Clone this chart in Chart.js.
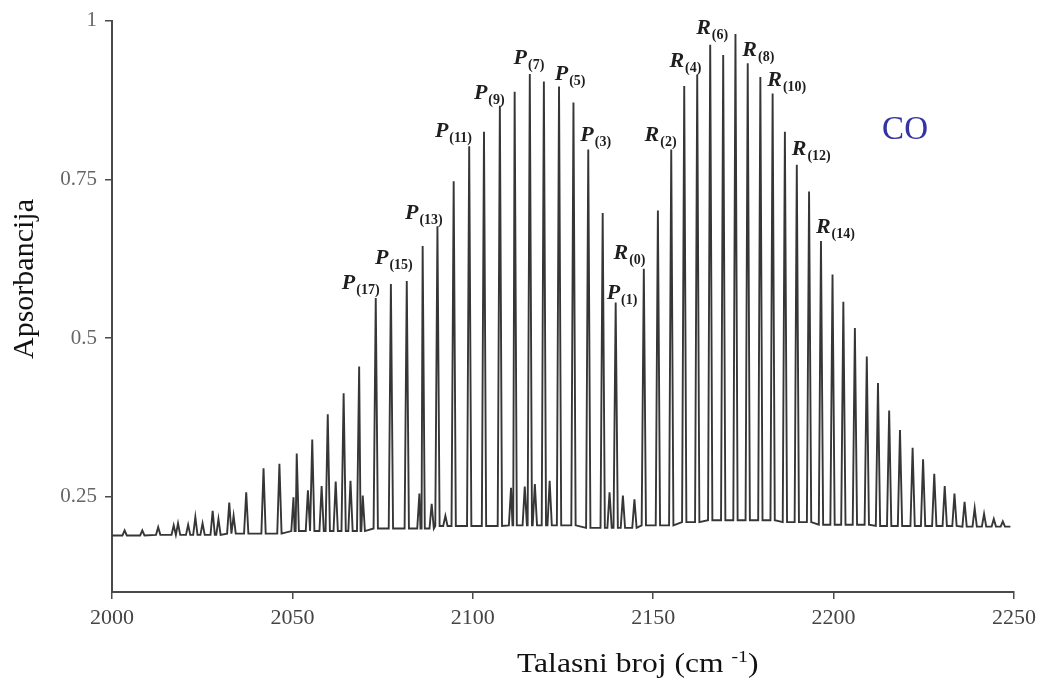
<!DOCTYPE html>
<html>
<head>
<meta charset="utf-8">
<script src="https://cdn.jsdelivr.net/npm/chart.js@4.4.1/dist/chart.umd.min.js"></script>
<style>
  html, body { margin: 0; padding: 0; background: #fff; }
  #wrap { width: 1044px; height: 684px; position: relative; }
</style>
</head>
<body>
<div id="wrap"><canvas id="spectrum" width="1044" height="684"></canvas></div>
<script>
// Linije P i R grane (talasni broj, apsorbancija) ocitane sa slike
const mainPeakX = [
  2003.5, 2008.4, 2012.8, 2018.3, 2023.1, 2027.9, 2032.5, 2037.2, 2042.0, 2046.4,
  2051.2, 2055.5, 2059.8, 2064.2, 2068.5, 2073.1, 2077.3, 2081.7, 2086.1, 2090.2,
  2094.7, 2099.0, 2103.1, 2107.5, 2111.6, 2115.8, 2119.7, 2123.9, 2127.9, 2132.0,
  2136.0, 2139.6,
  2147.4, 2151.3, 2155.0, 2158.6, 2162.2, 2165.8, 2169.4, 2172.8, 2176.2, 2179.7,
  2183.1, 2186.5, 2189.8, 2193.2, 2196.5, 2199.7, 2202.7, 2205.9, 2209.2, 2212.3,
  2215.4, 2218.4, 2221.9, 2224.8, 2227.9, 2230.8, 2233.5, 2236.3, 2239.1, 2241.7,
  2244.4, 2246.9
];
const mainPeakY = [
  0.197, 0.197, 0.202, 0.208, 0.218, 0.228, 0.241, 0.257, 0.295, 0.302,
  0.318, 0.340, 0.380, 0.413, 0.455, 0.563, 0.585, 0.590, 0.645, 0.676,
  0.747, 0.802, 0.825, 0.866, 0.888, 0.916, 0.904, 0.896, 0.871, 0.797,
  0.697, 0.556,
  0.609, 0.701, 0.797, 0.897, 0.915, 0.962, 0.946, 0.979, 0.933, 0.911,
  0.885, 0.825, 0.773, 0.731, 0.653, 0.600, 0.557, 0.516, 0.471, 0.429,
  0.386, 0.355, 0.327, 0.309, 0.286, 0.267, 0.255, 0.242, 0.232, 0.223,
  0.215, 0.211
];

// Slabije linije izmedju glavnih (izotopi / vruce trake)
const weakPeakX = [
  2017.1, 2021.1, 2025.1, 2029.5, 2033.7, 2050.3, 2054.3, 2058.1, 2062.0, 2066.1,
  2069.5, 2085.2, 2088.6, 2092.4, 2110.6, 2114.4, 2117.2, 2121.3, 2137.9, 2141.6,
  2144.8
];
const weakPeakY = [
  0.205, 0.206, 0.208, 0.215, 0.220, 0.249, 0.260, 0.267, 0.274, 0.275,
  0.252, 0.255, 0.239, 0.220, 0.264, 0.266, 0.270, 0.275, 0.257, 0.252,
  0.246
];

// Osnovna linija (ocitano na nekoliko mesta)
const baseX = [2000, 2020, 2040, 2060, 2080, 2100, 2120, 2140, 2150, 2160, 2170, 2180, 2190, 2200, 2220, 2249];
const baseY = [0.189, 0.190, 0.192, 0.196, 0.200, 0.204, 0.205, 0.201, 0.205, 0.210, 0.213, 0.213, 0.210, 0.206, 0.204, 0.203];

const xTickValues = [2000, 2050, 2100, 2150, 2200, 2250];
const yTickValues = [0.25, 0.5, 0.75, 1];
const yTickLabels = ["0.25", "0.5", "0.75", "1"];

// Oznake linija: grana, J, i polozaj oznake (talasni broj, apsorbancija)
const labelBranch = ["P", "P", "P", "P", "P", "P", "P", "P", "P", "R", "R", "R", "R", "R", "R", "R", "R"];
const labelJ = [17, 15, 13, 11, 9, 7, 5, 3, 1, 0, 2, 4, 6, 8, 10, 12, 14];
const labelX = [2063.7, 2072.9, 2081.2, 2089.5, 2100.3, 2111.3, 2122.7, 2129.8, 2137.1,
                2139.0, 2147.6, 2154.5, 2161.9, 2174.7, 2181.6, 2188.4, 2195.1];
const labelY = [0.578, 0.617, 0.688, 0.816, 0.877, 0.932, 0.907, 0.811, 0.562,
                0.625, 0.811, 0.927, 0.979, 0.944, 0.897, 0.788, 0.665];

const moleculeName = "CO";
const moleculeX = 2219.8;
const moleculeY = 0.813;

const SERIF = '"Liberation Serif", "Times New Roman", serif';

// najbliza ocitana vrednost osnovne linije
function footAt(x) {
  let best = 0;
  for (let i = 1; i < baseX.length; i++) {
    if (Math.abs(baseX[i] - x) < Math.abs(baseX[best] - x)) best = i;
  }
  return baseY[best];
}

function buildSpectrum() {
  const pts = [];
  const half = 0.6;
  pts.push({ x: baseX[0], y: baseY[0] });
  pts.push({ x: baseX[baseX.length - 1], y: baseY[baseY.length - 1] });
  const addPeaks = (xs, ys) => {
    xs.forEach((x, i) => {
      const f = footAt(x);
      pts.push({ x: x - half, y: f }, { x: x, y: ys[i] }, { x: x + half, y: f });
    });
  };
  addPeaks(mainPeakX, mainPeakY);
  addPeaks(weakPeakX, weakPeakY);
  pts.sort((a, b) => a.x - b.x);
  return pts;
}

const annotations = {
  id: "coAnnotations",
  afterDatasetsDraw(chart) {
    const { ctx, chartArea } = chart;
    const xs = chart.scales.x;
    const ys = chart.scales.y;
    ctx.save();
    ctx.textAlign = "left";
    ctx.textBaseline = "alphabetic";
    ctx.fillStyle = "#1e1e1e";

    labelBranch.forEach((b, i) => {
      const px = xs.getPixelForValue(labelX[i]);
      const py = ys.getPixelForValue(labelY[i]);
      ctx.font = "italic bold 22px " + SERIF;
      ctx.fillText(b, px, py);
      const w = ctx.measureText(b).width;
      ctx.font = "bold 14px " + SERIF;
      ctx.fillText("(" + labelJ[i] + ")", px + w + 1, py + 5);
    });

    // naziv molekula
    ctx.fillStyle = "#3434a2";
    ctx.font = "33px " + SERIF;
    ctx.textAlign = "center";
    ctx.fillText(moleculeName, xs.getPixelForValue(moleculeX), ys.getPixelForValue(moleculeY));

    // naslov y ose
    ctx.fillStyle = "#111";
    ctx.font = "30px " + SERIF;
    ctx.save();
    ctx.translate(chartArea.left - 87, 279);
    ctx.rotate(-Math.PI / 2);
    ctx.textBaseline = "middle";
    ctx.fillText("Apsorbancija", 0, 0);
    ctx.restore();

    // naslov x ose sa eksponentom (slika je malo razvucena po sirini)
    ctx.save();
    ctx.translate(517, 672);
    ctx.scale(1.17, 1);
    let tx = 0;
    ctx.textAlign = "left";
    ctx.font = "27px " + SERIF;
    const part1 = "Talasni broj (cm ";
    ctx.fillText(part1, tx, 0);
    tx += ctx.measureText(part1).width;
    ctx.font = "17px " + SERIF;
    ctx.fillText("-1", tx, -10);
    tx += ctx.measureText("-1").width;
    ctx.font = "27px " + SERIF;
    ctx.fillText(")", tx, 0);
    ctx.restore();
    ctx.restore();
  },
};

const ctx = document.getElementById("spectrum").getContext("2d");
new Chart(ctx, {
  type: "line",
  data: {
    datasets: [
      {
        label: "CO",
        data: buildSpectrum(),
        borderColor: "#363636",
        borderWidth: 1.9,
        pointRadius: 0,
        tension: 0,
        fill: false,
      },
    ],
  },
  options: {
    responsive: false,
    animation: false,
    layout: { padding: { left: 0, right: 30, top: 12, bottom: 0 } },
    plugins: {
      legend: { display: false },
      tooltip: { enabled: false },
    },
    scales: {
      x: {
        type: "linear",
        min: 2000,
        max: 2250,
        afterBuildTicks: (scale) => {
          scale.ticks = xTickValues.map((v) => ({ value: v }));
        },
        afterFit: (scale) => {
          scale.height = 92;
        },
        ticks: {
          color: "#444",
          font: { family: SERIF, size: 22 },
          padding: 6,
          maxRotation: 0,
          callback: (value) => String(value),
        },
        grid: { display: true, drawOnChartArea: false, drawTicks: true, tickLength: 7, color: "#4a4a4a", lineWidth: 1.5 },
        border: { display: true, color: "#4a4a4a", width: 2 },
      },
      y: {
        type: "linear",
        min: 0.1,
        max: 1,
        afterBuildTicks: (scale) => {
          scale.ticks = yTickValues.map((v) => ({ value: v }));
        },
        afterFit: (scale) => {
          scale.width = 112;
        },
        ticks: {
          color: "#666",
          font: { family: SERIF, size: 21 },
          padding: 8,
          callback: (value) => {
            const i = yTickValues.indexOf(value);
            return i >= 0 ? yTickLabels[i] : "";
          },
        },
        grid: { display: true, drawOnChartArea: false, drawTicks: true, tickLength: 7, color: "#4a4a4a", lineWidth: 1.5 },
        border: { display: true, color: "#4a4a4a", width: 2 },
      },
    },
  },
  plugins: [annotations],
});
</script>
</body>
</html>
